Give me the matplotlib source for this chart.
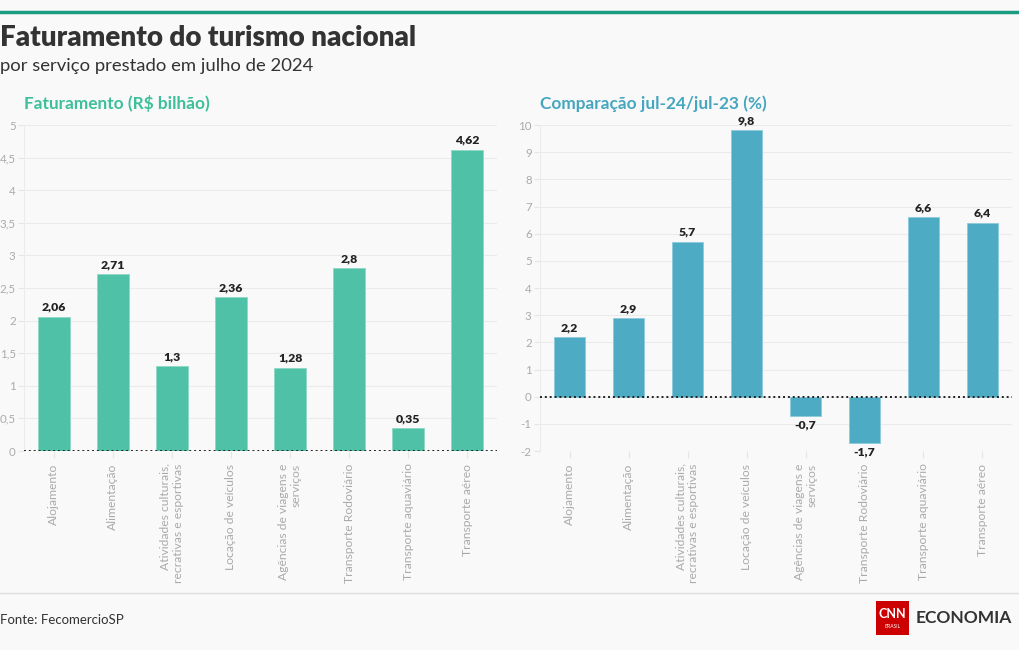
import matplotlib
matplotlib.use("Agg")
import matplotlib.pyplot as plt
from matplotlib.patches import Rectangle
from matplotlib.lines import Line2D

# dados
categorias = ["Alojamento", "Alimentação", "Atividades culturais,\nrecrativas e esportivas",
              "Locação de veículos", "Agências de viagens e\nserviços", "Transporte Rodoviário",
              "Transporte aquaviário", "Transporte aéreo"]
faturamento = [2.06, 2.71, 1.3, 2.36, 1.28, 2.8, 0.35, 4.62]
variacao = [2.2, 2.9, 5.7, 9.8, -0.7, -1.7, 6.6, 6.4]
ticks_fat = [0, 0.5, 1, 1.5, 2, 2.5, 3, 3.5, 4, 4.5, 5]
ticks_var = list(range(-2, 11))

FONT = "Lato"
BG = "#f9f9f9"
VERDE = "#4fc1a6"
AZUL = "#4eabc4"
plt.rcParams["font.family"] = [FONT, "DejaVu Sans"]

fig = plt.figure(figsize=(10.2, 6.5), dpi=100, facecolor=BG)

# faixa superior e rodapé
fig.add_artist(Line2D([0, 1], [1 - 12/650, 1 - 12/650], color="#1a9c80", lw=2.5))
fig.add_artist(Line2D([0, 1], [1 - 593/650, 1 - 593/650], color="#dddddd", lw=1))
fig.text(0.0, 1 - 38/650, "Faturamento do turismo nacional", fontsize=20, fontweight="heavy",
         color="#333333", va="center")
fig.text(0.0, 1 - 66/650, "por serviço prestado em julho de 2024", fontsize=13.3,
         color="#333333", va="center")
fig.text(0.0, 1 - 620/650, "Fonte: FecomercioSP", fontsize=9.5, color="#333333", va="center")

# logo
fig.add_artist(Rectangle((876/1020, 1 - 635/650), 33/1020, 34/650, transform=fig.transFigure,
                         facecolor="#cc0000", edgecolor="none"))
fig.text(892.5/1020, 1 - 614/650, "CNN", fontsize=9, fontweight="bold", color="white",
         ha="center", va="center")
fig.text(892.5/1020, 1 - 627/650, "BRASIL", fontsize=3.5, color="white", ha="center", va="center")
fig.text(1012/1020, 1 - 618/650, "ECONOMIA", fontsize=12.5, fontweight="bold", color="#333333",
         va="center", ha="right")


def painel(rect, valores, ticks, ylim, cor, borda, titulo, cor_titulo, fmt):
    ax = fig.add_axes(rect)
    ax.set_facecolor(BG)
    x = list(range(len(valores)))
    ax.bar(x, valores, width=0.54, color=cor, edgecolor=borda, linewidth=0.6, zorder=2)
    ax.set_xlim(-0.5, len(valores) - 0.5)
    ax.set_ylim(*ylim)
    ax.set_yticks(ticks)
    ax.set_yticklabels([fmt(t) for t in ticks])
    ax.set_xticks(x)
    ax.set_xticklabels(categorias, rotation=90, ha="center", va="top", multialignment="right",
                       fontsize=8.7, color="#aaaaaa")
    ax.tick_params(axis="y", labelsize=8.3, labelcolor="#aaaaaa", length=4, color="#e6e6e6", pad=2)
    ax.tick_params(axis="x", length=5, color="#e6e6e6", pad=4)
    ax.grid(axis="y", color="#ebebeb", lw=0.8, zorder=0)
    for s in ["top", "right", "bottom"]:
        ax.spines[s].set_visible(False)
    ax.spines["left"].set_color("#ebebeb")
    ax.axhline(0, color="#222222", lw=1.4, ls=(0, (1, 1.5)), zorder=3)
    span = ylim[1] - ylim[0]
    for xi, v in zip(x, valores):
        if v >= 0:
            ax.text(xi, v + span * 0.012, fmt(v), ha="center", va="bottom", fontsize=8.8,
                    fontweight="heavy", color="#222222", zorder=4)
        else:
            ax.text(xi, v - span * 0.012, fmt(v), ha="center", va="top", fontsize=8.8,
                    fontweight="heavy", color="#222222", zorder=4)
    ax.text(0, 1.065, titulo, transform=ax.transAxes, fontsize=12.4, fontweight="bold",
            color=cor_titulo, va="center", ha="left")
    return ax


def br(v):
    return ("%g" % v).replace(".", ",")


painel([24/1020, 1 - 451/650, 473/1020, 326/650], faturamento, ticks_fat, (0, 5), VERDE,
       "#8fd8c6", "Faturamento (R$ bilhão)", "#3dbf9a", br)
painel([540/1020, 1 - 451/650, 472/1020, 326/650], variacao, ticks_var, (-2, 10), AZUL,
       "#8ccbdb", "Comparação jul-24/jul-23 (%)", "#45a6c0", br)

fig.savefig("out.png", dpi=100, facecolor=BG)
